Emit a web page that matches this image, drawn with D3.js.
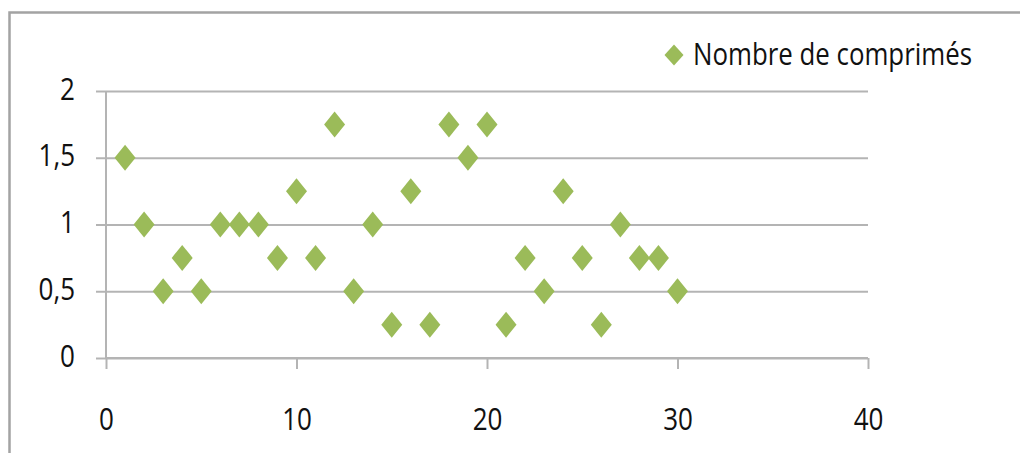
<!DOCTYPE html>
<html>
<head>
<meta charset="utf-8">
<script src="https://cdn.jsdelivr.net/npm/d3@7"></script>
<style>
  html, body { margin: 0; padding: 0; background: #ffffff; }
  svg { display: block; }
</style>
</head>
<body>
<svg id="chart" width="1020" height="453"></svg>
<script>
// Number of tablets per observation
const seriesName = "Nombre de comprimés";
const xValues = [1, 2, 3, 4, 5, 6, 7, 8, 9, 10, 11, 12, 13, 14, 15,
                 16, 17, 18, 19, 20, 21, 22, 23, 24, 25, 26, 27, 28, 29, 30];
const yValues = [1.5, 1, 0.5, 0.75, 0.5, 1, 1, 1, 0.75, 1.25, 0.75, 1.75, 0.5, 1, 0.25,
                 1.25, 0.25, 1.75, 1.5, 1.75, 0.25, 0.75, 0.5, 1.25, 0.75, 0.25, 1, 0.75, 0.75, 0.5];
const xTicks = [0, 10, 20, 30, 40];
const yTicks = [0, 0.5, 1, 1.5, 2];

const svg = d3.select("#chart");
const plot = { left: 106, right: 868, top: 91, bottom: 358 };
const green = "#9bbb59";
const gridColor = "#b4b4b4";
const font = "'Open Sans', 'Noto Sans', sans-serif";
const stretch = 1.22;

const x = d3.scaleLinear().domain([0, 40]).range([plot.left, plot.right]);
const y = d3.scaleLinear().domain([0, 2]).range([plot.bottom, plot.top]);
const fr = d3.formatLocale({ decimal: ",", thousands: " ", grouping: [3], currency: ["", " €"] });
const yFmt = v => fr.format("~g")(v);

// Outer chart frame (open to the right and bottom)
svg.append("rect")
  .attr("x", 9.5).attr("y", 12.5)
  .attr("width", 1100).attr("height", 500)
  .attr("fill", "none").attr("stroke", "#a3a3a3").attr("stroke-width", 2.5);

// Horizontal gridlines
const grid = svg.append("g").attr("transform", `translate(${plot.left},0)`)
  .call(d3.axisLeft(y).tickValues(yTicks).tickSize(-(plot.right - plot.left)).tickFormat(""));
grid.select(".domain").remove();
grid.selectAll("line").attr("stroke", gridColor).attr("stroke-width", 2);

// Y axis
const yAxis = svg.append("g").attr("transform", `translate(${plot.left},0)`)
  .call(d3.axisLeft(y).tickValues(yTicks).tickSize(10).tickPadding(0).tickFormat(yFmt));
yAxis.select(".domain").attr("stroke", gridColor).attr("stroke-width", 2)
  .attr("d", `M0,${plot.top}V${plot.bottom}`);
yAxis.selectAll(".tick line").attr("stroke", gridColor).attr("stroke-width", 2);
yAxis.selectAll(".tick text")
  .attr("x", null).attr("dy", null)
  .attr("transform", `translate(-31,8) scale(1,${stretch})`)
  .attr("text-anchor", "end")
  .attr("fill", "#111").attr("font-family", font).attr("font-size", 26);

// X axis
const xAxis = svg.append("g").attr("transform", `translate(0,${plot.bottom})`)
  .call(d3.axisBottom(x).tickValues(xTicks).tickSize(11).tickPadding(0).tickFormat(d3.format("d")));
xAxis.select(".domain").attr("stroke", gridColor).attr("stroke-width", 2)
  .attr("d", `M${plot.left},0H${plot.right}`);
xAxis.selectAll(".tick line").attr("stroke", gridColor).attr("stroke-width", 2);
xAxis.selectAll(".tick text")
  .attr("y", null).attr("dy", null)
  .attr("transform", `translate(0,72) scale(1,${stretch})`)
  .attr("text-anchor", "middle")
  .attr("fill", "#111").attr("font-family", font).attr("font-size", 26);

// Diamond marker
const diamond = (hw, hh) => `M0,${-hh}L${hw},0L0,${hh}L${-hw},0Z`;

svg.append("g").selectAll("path.pt")
  .data(xValues.map((v, i) => ({ x: v, y: yValues[i] })))
  .join("path")
  .attr("class", "pt")
  .attr("transform", d => `translate(${x(d.x)},${y(d.y)})`)
  .attr("d", diamond(10.5, 13))
  .attr("fill", green);

// Legend
const legend = svg.append("g").attr("transform", "translate(674,55)");
legend.append("path").attr("d", diamond(9.5, 10.5)).attr("fill", green);
legend.append("text")
  .attr("transform", `translate(19,10) scale(1,${stretch})`)
  .attr("font-family", font).attr("font-size", 25).attr("fill", "#111")
  .attr("textLength", 279).attr("lengthAdjust", "spacingAndGlyphs")
  .text(seriesName);
</script>
</body>
</html>
